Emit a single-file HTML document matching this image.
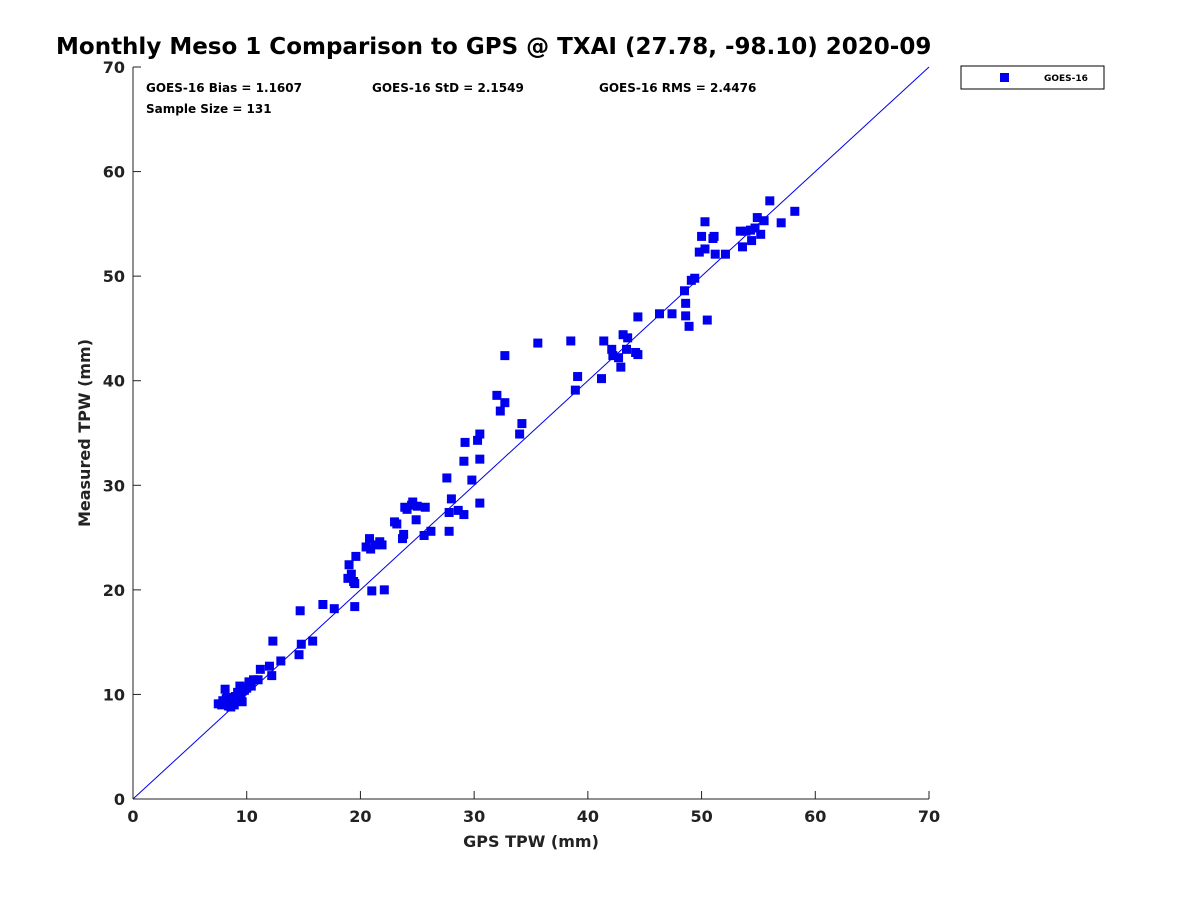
<!DOCTYPE html>
<html><head><meta charset="utf-8"><style>
body{margin:0;background:#fff;font-family:"Liberation Sans","DejaVu Sans",sans-serif}
svg text{font-family:"DejaVu Sans","Liberation Sans",sans-serif;font-weight:bold}
</style></head><body>
<svg id="c" width="1200" height="900" xmlns="http://www.w3.org/2000/svg">
<rect width="1200" height="900" fill="#fff"/>
<text x="56" y="54" font-size="23" fill="#000">Monthly Meso 1 Comparison to GPS @ TXAI (27.78, -98.10) 2020-09</text>
<g id="axes"></g>
<g id="pts"></g>
<text x="146" y="92" font-size="12">GOES-16 Bias = 1.1607</text>
<text x="372" y="92" font-size="12">GOES-16 StD = 2.1549</text>
<text x="599" y="92" font-size="12">GOES-16 RMS = 2.4476</text>
<text x="146" y="113" font-size="12">Sample Size = 131</text>
<g>
<rect x="961" y="66" width="143" height="23" fill="#fff" stroke="#000" stroke-width="1"/>
<rect x="1000" y="73" width="9" height="9" fill="#0000ee"/>
<text x="1044" y="81" font-size="9">GOES-16</text>
</g>
<text x="531" y="847" font-size="16" text-anchor="middle" fill="#222">GPS TPW (mm)</text>
<text transform="translate(90,433) rotate(-90)" font-size="16" text-anchor="middle" fill="#222">Measured TPW (mm)</text>
</svg>
<script>
const xTicks=[0,10,20,30,40,50,60,70];
const yTicks=[0,10,20,30,40,50,60,70];
const gpsVals=[7.5,7.8,8,8.1,8.2,8.4,8.5,8.7,8.9,9,9.2,9.4,9.6,9.8,10,10.2,10.4,10.6,11,11.2,12,12.2,12.3,13,14.6,14.7,14.8,15.8,16.7,17.7,18.9,19,19.2,19.4,19.5,19.5,19.6,20.5,20.8,20.9,21,21.3,21.7,21.9,22.1,23,23.2,23.7,23.8,23.9,24.1,24.5,24.6,24.9,25,25.6,25.7,26.2,27.6,27.8,27.8,28,28.6,29.1,29.1,29.2,29.8,30.3,30.5,30.5,30.5,32,32.3,32.7,32.7,34,34.2,35.6,38.5,38.9,39.1,41.2,41.4,42.1,42.2,42.7,42.9,43.1,43.4,43.5,44.2,44.4,44.4,46.3,47.4,48.5,48.6,48.6,48.9,49.1,49.4,49.8,50,50.3,50.3,50.5,51,51.1,51.2,52.1,53.4,53.6,53.9,54.3,54.4,54.7,54.9,55.2,55.5,56,57,58.2,8.3,9.1,9.5,10.3,8.6,7.9];
const measVals=[9.1,9.0,9.3,10.5,9.6,8.9,9.2,9.5,9.0,9.8,10.2,10.8,9.3,10.4,10.6,11.2,10.8,11.4,11.4,12.4,12.7,11.8,15.1,13.2,13.8,18,14.8,15.1,18.6,18.2,21.1,22.4,21.5,20.8,20.6,18.4,23.2,24.1,24.9,23.9,19.9,24.3,24.6,24.3,20,26.5,26.3,24.9,25.3,27.9,27.7,28.1,28.4,26.7,28,25.2,27.9,25.6,30.7,25.6,27.4,28.7,27.6,27.2,32.3,34.1,30.5,34.3,32.5,34.9,28.3,38.6,37.1,37.9,42.4,34.9,35.9,43.6,43.8,39.1,40.4,40.2,43.8,43,42.4,42.2,41.3,44.4,43,44.1,42.7,42.5,46.1,46.4,46.4,48.6,47.4,46.2,45.2,49.6,49.8,52.3,53.8,55.2,52.6,45.8,53.6,53.8,52.1,52.1,54.3,52.8,54.3,54.4,53.4,54.6,55.6,54,55.3,57.2,55.1,56.2,9.7,9.4,10.1,10.9,8.8,9.4];
const NS='http://www.w3.org/2000/svg';
const X0=133,X1=929,Y0=799,Y1=67;
const sx=v=>X0+(v-0)/70*(X1-X0);
const sy=v=>Y0-(v-0)/70*(Y0-Y1);
function mk(t,a,p){const e=document.createElementNS(NS,t);for(const k in a)e.setAttribute(k,a[k]);p.appendChild(e);return e;}
const ax=document.getElementById('axes');
const line=mk('line',{x1:sx(0),y1:sy(0),x2:sx(70),y2:sy(70),stroke:'#0000ee','stroke-width':1},ax);


const xl=mk('line',{x1:X0,y1:Y0,x2:X1,y2:Y0,stroke:'#222','stroke-width':1},ax);


const yl=mk('line',{x1:X0,y1:Y0,x2:X0,y2:Y1,stroke:'#222','stroke-width':1},ax);


xTicks.forEach(t=>{mk('line',{x1:sx(t),y1:Y0,x2:sx(t),y2:Y0-8,stroke:'#222'},ax);
const tx=mk('text',{x:sx(t),y:Y0+23,'font-size':16,'text-anchor':'middle',fill:'#222'},ax);tx.textContent=t;

});
yTicks.forEach(t=>{mk('line',{x1:X0,y1:sy(t),x2:X0+8,y2:sy(t),stroke:'#222'},ax);
const tx=mk('text',{x:X0-8,y:sy(t)+6,'font-size':16,'text-anchor':'end',fill:'#222'},ax);tx.textContent=t;

});
const pg=document.getElementById('pts');
gpsVals.forEach((g,i)=>{const r=mk('rect',{x:sx(g)-4.5,y:sy(measVals[i])-4.5,width:9,height:9,fill:'#0000ee'},pg);

});
</script>
</body></html>
